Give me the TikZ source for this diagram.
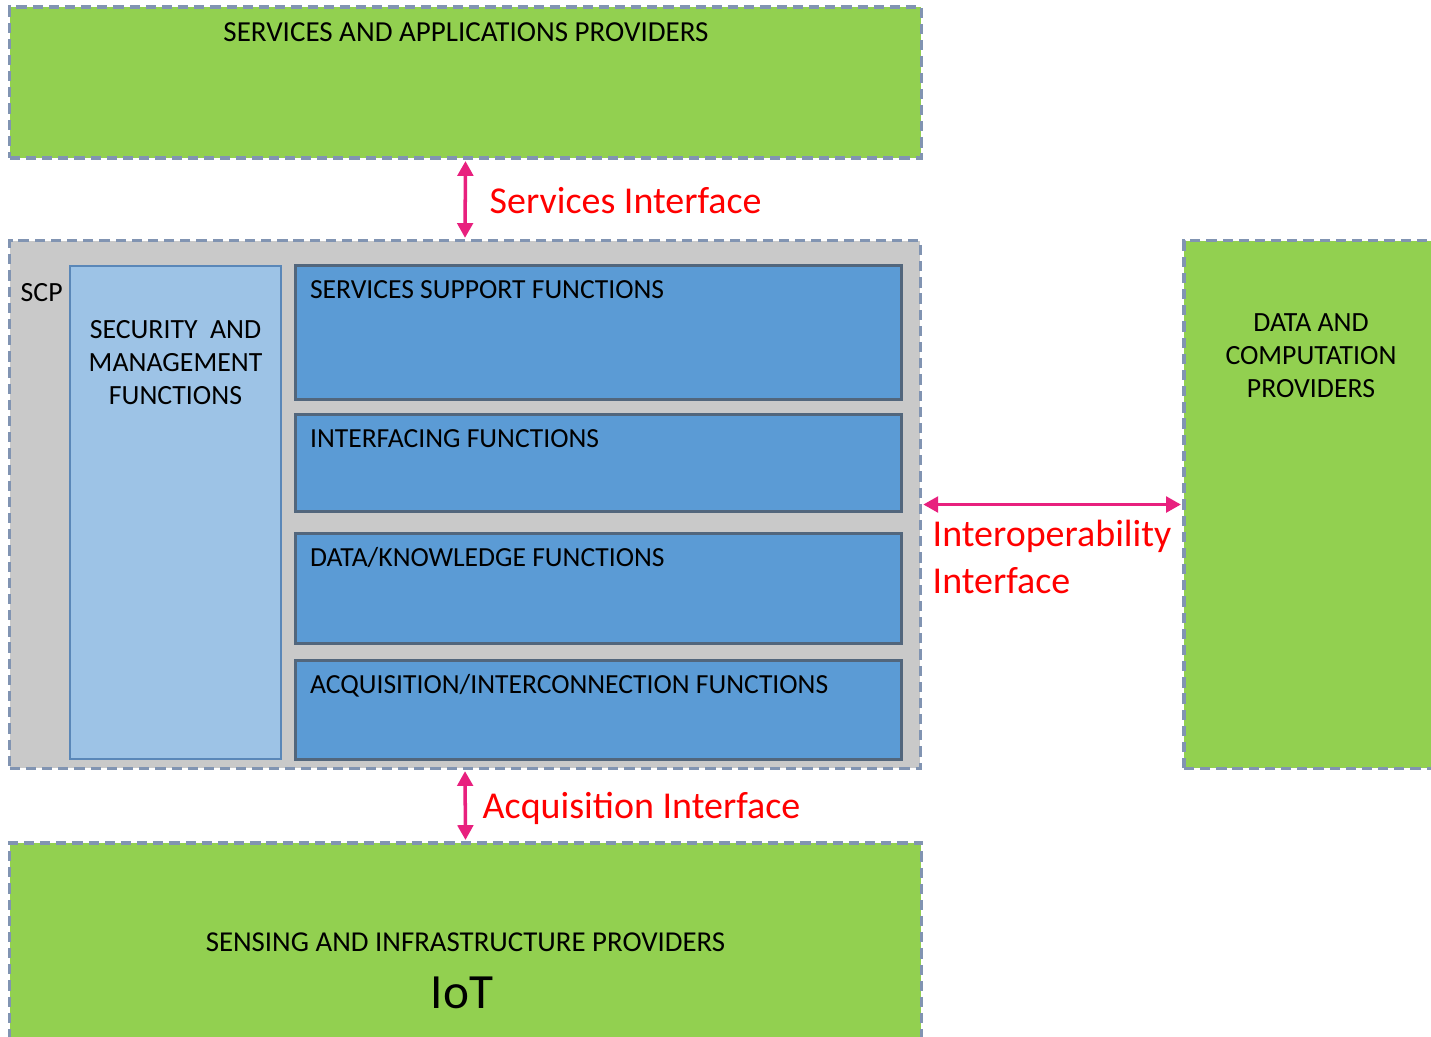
\documentclass[tikz,border=0pt]{standalone}
\usepackage{fontspec}
\setmainfont{Carlito}
\usetikzlibrary{arrows.meta,positioning}

\definecolor{provgreen}{HTML}{92D050}
\definecolor{scpgray}{HTML}{C9C9C9}
\definecolor{dashgray}{HTML}{8194B2}
\definecolor{seclight}{HTML}{9DC3E6}
\definecolor{secborder}{HTML}{5A87B8}
\definecolor{funblue}{HTML}{5B9BD5}
\definecolor{funborder}{HTML}{52667C}
\definecolor{ifacepink}{HTML}{E8207E}

\begin{document}
\begin{tikzpicture}[x=0.01cm,y=-0.01cm]

% definitions
\tikzstyle{provider} = [rectangle, inner sep=0pt, draw=dashgray, line width=0.9pt, dash pattern=on 2.9pt off 1.7pt, fill=provgreen]

\tikzstyle{platform} = [rectangle, inner sep=0pt, draw=dashgray, line width=0.9pt, dash pattern=on 2.9pt off 1.7pt, fill=scpgray]

\tikzstyle{security} = [rectangle, inner sep=0pt, draw=secborder, line width=0.45pt, fill=seclight, minimum width=2.11cm, minimum height=4.93cm]

\tikzstyle{function} = [rectangle, inner sep=0pt, draw=funborder, line width=0.85pt, fill=funblue, minimum width=6.05cm]

\tikzstyle{boxtext} = [inner sep=0pt, font=\fontsize{7.9}{9.4}\selectfont, align=center]

\tikzstyle{funtext} = [inner sep=0pt, font=\fontsize{7.85}{9.4}\selectfont, anchor=base west]

\tikzstyle{iface} = [inner sep=0pt, text=red, font=\fontsize{10.8}{13.4}\selectfont, align=left]

\tikzstyle{arrow} = [{Triangle[length=4.2pt,width=4.4pt]}-{Triangle[length=4.2pt,width=4.4pt]}, draw=ifacepink, line width=1pt, shorten <=0.4pt, shorten >=0.4pt]

\useasboundingbox (0,0) rectangle (1431,1036);
\clip (0,0) rectangle (1431,1036);

% the graph
\node (sap) [provider, minimum width=9.11cm, minimum height=1.51cm] at (465.5,82.5) {};
\node (scp) [platform, minimum width=9.10cm, minimum height=5.27cm] at (465,504.5) {};
\node (dcp) [provider, minimum width=2.54cm, minimum height=5.27cm] at (1311,504.5) {};
\node (sip) [provider, minimum width=9.11cm, minimum height=2.07cm] at (465.5,946.5) {};

\node (smf) [security] at (175.5,512.5) {};
\node (ssf) [function, minimum height=1.33cm] at (598.5,332.5) {};
\node (inf) [function, minimum height=0.96cm] at (598.5,463) {};
\node (dkf) [function, minimum height=1.09cm] at (598.5,588.5) {};
\node (aif) [function, minimum height=0.98cm] at (598.5,710) {};

% texts
\node (sapt) [boxtext, font=\fontsize{8.25}{9.4}\selectfont, anchor=base] at (466,41) {SERVICES AND APPLICATIONS PROVIDERS};
\node (scpt) [boxtext, anchor=base west] at (20,301) {SCP};
\node (smft) [boxtext] at (175.5,363) {SECURITY\ \ AND\\MANAGEMENT\\FUNCTIONS};
\node (dcpt) [boxtext] at (1311,356) {DATA AND\\COMPUTATION\\PROVIDERS};
\node (sipt) [boxtext, font=\fontsize{8.2}{9.4}\selectfont, anchor=base] at (465.5,951) {SENSING AND INFRASTRUCTURE PROVIDERS};
\node (iot) [inner sep=0pt, font=\fontsize{14}{16}\selectfont, anchor=base] at (462,1008) {IoT};

\node (ssft) [funtext] at ([xshift=0.15cm,yshift=-0.34cm]ssf.north west) {SERVICES SUPPORT FUNCTIONS};
\node (inft) [funtext] at ([xshift=0.15cm,yshift=-0.34cm]inf.north west) {INTERFACING FUNCTIONS};
\node (dkft) [funtext] at ([xshift=0.15cm,yshift=-0.34cm]dkf.north west) {DATA/KNOWLEDGE FUNCTIONS};
\node (aift) [funtext] at ([xshift=0.15cm,yshift=-0.34cm]aif.north west) {ACQUISITION/INTERCONNECTION FUNCTIONS};

% interfaces
\draw [arrow] (sap.south) -- (scp.north);
\draw [arrow] (scp.south) -- (sip.north);
\draw [arrow] (scp.east) -- (dcp.west);

\node (sint) [iface, anchor=base west] at (489,213) {Services Interface};
\node (aint) [iface, anchor=base west] at (482,818) {Acquisition Interface};
\node (oint) [iface, anchor=north west] at (932,519) {Interoperability\\Interface};

\end{tikzpicture}
\end{document}
